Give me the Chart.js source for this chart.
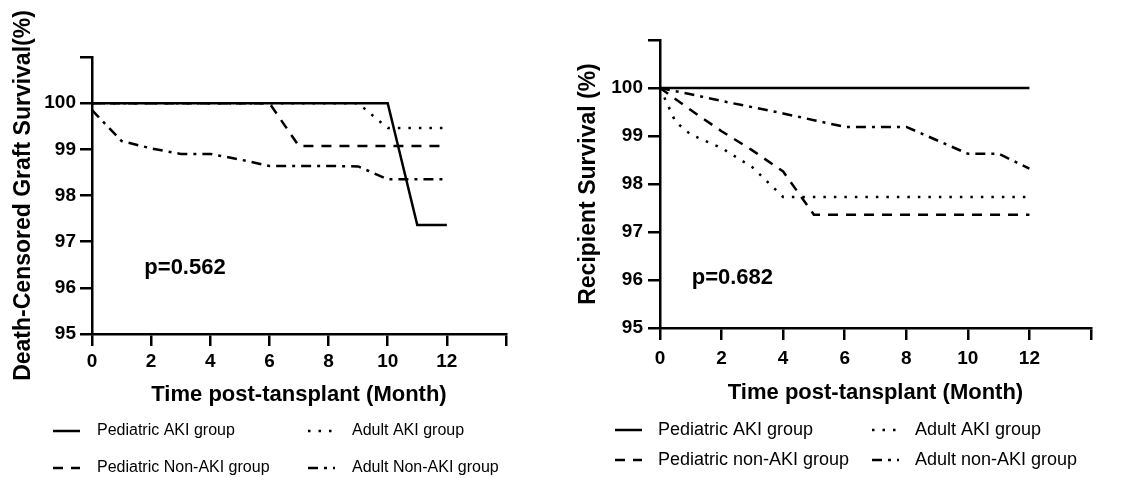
<!DOCTYPE html>
<html>
<head>
<meta charset="utf-8">
<script src="https://cdn.jsdelivr.net/npm/chart.js@4.4.0/dist/chart.umd.min.js"></script>
<style>
  html, body { margin: 0; padding: 0; background: #fff; }
  #wrap { position: relative; width: 1146px; height: 478px; }
  #graft { position: absolute; left: 0; top: 0; }
  #recip { position: absolute; left: 560px; top: 0; }
</style>
</head>
<body>
<div id="wrap">
  <canvas id="graft" width="560" height="478"></canvas>
  <canvas id="recip" width="586" height="478"></canvas>
</div>
<script>
// Dados //
const groupNamesLeft = ['Pediatric AKI group', 'Pediatric Non-AKI group', 'Adult AKI group', 'Adult Non-AKI group'];
const groupNamesRight = ['Pediatric AKI group', 'Pediatric non-AKI group', 'Adult AKI group', 'Adult non-AKI group'];

// Death-censored graft survival
const graftPedAkiMonths = [0, 10, 11, 12];
const graftPedAkiValues = [100, 100, 97.36, 97.36];
const graftPedNonAkiMonths = [0, 6, 7, 12];
const graftPedNonAkiValues = [100, 100, 99.07, 99.07];
const graftAdultAkiMonths = [0, 9, 10, 12];
const graftAdultAkiValues = [100, 100, 99.46, 99.46];
const graftAdultNonAkiMonths = [0, 1, 2, 3, 4, 5, 6, 7, 8, 9, 10, 11, 12];
const graftAdultNonAkiValues = [99.85, 99.18, 99.02, 98.9, 98.9, 98.78, 98.64, 98.64, 98.64, 98.63, 98.35, 98.35, 98.35];

// Recipient survival
const recipPedAkiMonths = [0, 12];
const recipPedAkiValues = [100, 100];
const recipPedNonAkiMonths = [0, 1, 2, 3, 4, 5, 12];
const recipPedNonAkiValues = [100, 99.54, 99.1, 98.7, 98.26, 97.36, 97.36];
const recipAdultAkiMonths = [0, 0.5, 1, 2, 3, 4, 12];
const recipAdultAkiValues = [100, 99.3, 99.03, 98.75, 98.35, 97.73, 97.73];
const recipAdultNonAkiMonths = [0, 1, 2, 3, 4, 5, 6, 8, 10, 11, 12];
const recipAdultNonAkiValues = [100, 99.87, 99.73, 99.6, 99.47, 99.33, 99.19, 99.19, 98.63, 98.63, 98.32];

const pValueLeft = 'p=0.562';
const pValueRight = 'p=0.682';

// Estilos das linhas //
const FONTE = "Arial, 'Liberation Sans', sans-serif";
const estilos = [[], [10, 8], [2.5, 8], [10, 6, 3, 6]];

function pontos(meses, valores) {
  return meses.map((m, i) => ({ x: m, y: valores[i] }));
}

function montarDatasets(nomes, series) {
  return series.map((s, i) => ({
    label: nomes[i],
    data: pontos(s[0], s[1]),
    borderColor: '#000',
    borderWidth: 2.5,
    borderDash: estilos[i],
    borderCapStyle: 'butt',
    pointRadius: 0,
    fill: false,
    tension: 0
  }));
}

// Legenda em grade 2x2 desenhada no canvas
const legendaGrade = {
  id: 'legendaGrade',
  afterDraw(chart, args, opts) {
    const ctx = chart.ctx;
    ctx.save();
    ctx.font = opts.font;
    ctx.fillStyle = '#000';
    ctx.textBaseline = 'middle';
    ctx.textAlign = 'left';
    opts.ordem.forEach((idx, i) => {
      const ds = chart.data.datasets[idx];
      const col = i % 2, row = Math.floor(i / 2);
      const x0 = opts.cols[col], y = opts.rows[row];
      ctx.strokeStyle = '#000';
      ctx.lineWidth = 2.5;
      ctx.setLineDash(ds.borderDash || []);
      ctx.beginPath();
      ctx.moveTo(x0, y);
      ctx.lineTo(x0 + opts.sample, y);
      ctx.stroke();
      ctx.setLineDash([]);
      ctx.fillText(ds.label, x0 + opts.sample + opts.gap, y);
    });
    ctx.restore();
  }
};

// Texto do p-valor em coordenadas de dados
const textoP = {
  id: 'textoP',
  afterDraw(chart, args, opts) {
    const ctx = chart.ctx;
    const px = chart.scales.x.getPixelForValue(opts.x);
    const py = chart.scales.y.getPixelForValue(opts.y);
    ctx.save();
    ctx.font = opts.font;
    ctx.fillStyle = '#000';
    ctx.textBaseline = 'middle';
    ctx.textAlign = 'left';
    ctx.fillText(opts.text, px, py);
    ctx.restore();
  }
};

function criarGrafico(id, cfg) {
  return new Chart(document.getElementById(id), {
    type: 'line',
    data: { datasets: cfg.datasets },
    plugins: [legendaGrade, textoP],
    options: {
      responsive: false,
      animation: false,
      devicePixelRatio: 1,
      layout: { padding: cfg.padding },
      plugins: {
        legend: { display: false },
        tooltip: { enabled: false },
        legendaGrade: cfg.legenda,
        textoP: cfg.p
      },
      scales: {
        x: {
          type: 'linear',
          min: 0, max: 14,
          afterFit: s => { s.height = 80; },
          border: { display: true, color: '#000', width: 2.5 },
          grid: { drawOnChartArea: false, color: '#000', lineWidth: 2.5, tickLength: 12 },
          ticks: {
            stepSize: 2, color: '#000', padding: cfg.xTickPad,
            font: { family: FONTE, size: 19, weight: 'bold' },
            callback: v => (v === 14 ? '' : v)
          },
          title: {
            display: true, text: 'Time post-tansplant (Month)', color: '#000',
            font: { family: FONTE, size: 22, weight: 'bold' },
            padding: { top: 0, bottom: cfg.xTitlePad }
          }
        },
        y: {
          min: 95, max: 101,
          afterFit: s => { s.width = cfg.yWidth; },
          border: { display: true, color: '#000', width: 2.5 },
          grid: { drawOnChartArea: false, color: '#000', lineWidth: 2.5, tickLength: 12 },
          ticks: {
            stepSize: 1, color: '#000', padding: cfg.yTickPad,
            font: { family: FONTE, size: 19, weight: 'bold' },
            callback: v => (v === 101 ? '' : v)
          },
          title: {
            display: true, text: cfg.yTitle, color: '#000',
            font: { family: FONTE, size: 23, weight: 'bold' },
            padding: { top: cfg.yTitlePad, bottom: 0 }
          }
        }
      }
    }
  });
}

criarGrafico('graft', {
  datasets: montarDatasets(groupNamesLeft, [
    [graftPedAkiMonths, graftPedAkiValues],
    [graftPedNonAkiMonths, graftPedNonAkiValues],
    [graftAdultAkiMonths, graftAdultAkiValues],
    [graftAdultNonAkiMonths, graftAdultNonAkiValues]
  ]),
  padding: { left: 0, top: 57, right: 54, bottom: 64 },
  yWidth: 92, yTickPad: 4, yTitlePad: 10,
  xTickPad: 4, xTitlePad: 6,
  yTitle: 'Death-Censored Graft Survival(%)',
  legenda: { font: '16px ' + FONTE, ordem: [0, 2, 1, 3], cols: [53, 308], rows: [431, 468], sample: 27, gap: 17 },
  p: { text: pValueLeft, x: 1.77, y: 96.43, font: 'bold 22px ' + FONTE }
});

criarGrafico('recip', {
  datasets: montarDatasets(groupNamesRight, [
    [recipPedAkiMonths, recipPedAkiValues],
    [recipPedNonAkiMonths, recipPedNonAkiValues],
    [recipAdultAkiMonths, recipAdultAkiValues],
    [recipAdultNonAkiMonths, recipAdultNonAkiValues]
  ]),
  padding: { left: 0, top: 40, right: 55, bottom: 70 },
  yWidth: 100, yTickPad: 5, yTitlePad: 15,
  xTickPad: 7, xTitlePad: 2,
  yTitle: 'Recipient Survival (%)',
  legenda: { font: '18px ' + FONTE, ordem: [0, 2, 1, 3], cols: [55, 312], rows: [430, 460], sample: 27, gap: 16 },
  p: { text: pValueRight, x: 1.03, y: 96.05, font: 'bold 22px ' + FONTE }
});
</script>
</body>
</html>
